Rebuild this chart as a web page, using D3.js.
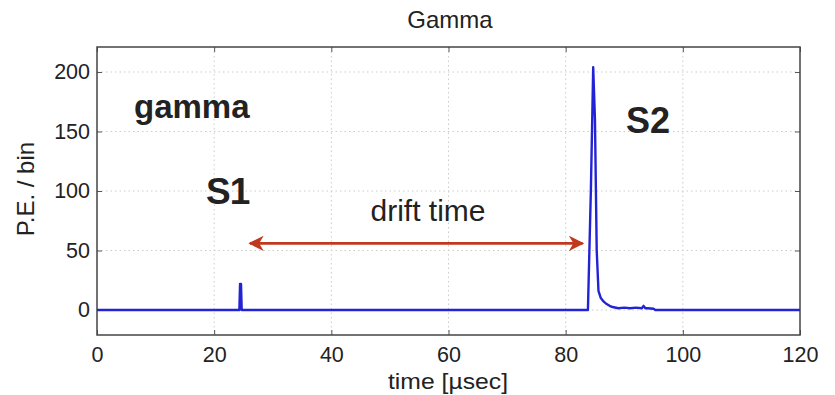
<!DOCTYPE html>
<html lang="en">
<head>
    <meta charset="UTF-8">
    <title>Gamma</title>
    <script src="https://d3js.org/d3.v7.min.js"></script>
    <style>
        body { margin: 0; background: #fff; }
        text { font-family: "Liberation Sans", Arial, sans-serif; fill: #222; }
    </style>
</head>
<body>
    <script>
        // waveform (time in µs, P.E. per bin)
        const times = [0, 24.3, 24.42, 24.58, 24.7, 83.8, 84.3, 84.7, 85.0, 85.3, 85.6, 86.0, 86.5, 87.0, 87.5, 88, 89, 90, 91, 92, 93, 93.3, 93.6, 94, 95, 95.3, 120];
        const values = [0, 0, 22, 22, 0, 0, 100, 204, 160, 50, 16, 10, 7, 5, 3.5, 2.5, 1.5, 2, 1.5, 2, 1.5, 3.5, 1.5, 1.5, 1, 0, 0];
        const xTicks = [0, 20, 40, 60, 80, 100, 120];
        const yTicks = [0, 50, 100, 150, 200];

        const width = 835, height = 395;
        const marginTop = 47, marginRight = 35, marginBottom = 60, marginLeft = 97;

        const x = d3.scaleLinear()
            .domain([0, 120])
            .range([marginLeft, width - marginRight]);

        const y = d3.scaleLinear()
            .domain([-21, 221])
            .range([height - marginBottom, marginTop]);

        const svg = d3.select("body").append("svg")
            .attr("width", width)
            .attr("height", height);

        // grid
        svg.append("g")
            .selectAll("line").data(xTicks.slice(1, -1)).join("line")
            .attr("x1", d => x(d)).attr("x2", d => x(d))
            .attr("y1", marginTop).attr("y2", height - marginBottom)
            .attr("stroke", "#ccc").attr("stroke-dasharray", "1.5,3");
        svg.append("g")
            .selectAll("line").data(yTicks).join("line")
            .attr("x1", marginLeft).attr("x2", width - marginRight)
            .attr("y1", d => y(d)).attr("y2", d => y(d))
            .attr("stroke", "#ccc").attr("stroke-dasharray", "1.5,3");

        // axes with inward ticks
        const xAxis = svg.append("g")
            .attr("transform", `translate(0,${height - marginBottom})`)
            .call(d3.axisBottom(x).tickValues(xTicks).tickSizeInner(-5).tickSizeOuter(0).tickPadding(12));
        const xAxisTop = svg.append("g")
            .attr("transform", `translate(0,${marginTop})`)
            .call(d3.axisTop(x).tickValues(xTicks).tickSizeInner(-5).tickSizeOuter(0).tickFormat(""));
        const yAxis = svg.append("g")
            .attr("transform", `translate(${marginLeft},0)`)
            .call(d3.axisLeft(y).tickValues(yTicks).tickSizeInner(-5).tickSizeOuter(0).tickPadding(7));
        const yAxisRight = svg.append("g")
            .attr("transform", `translate(${width - marginRight},0)`)
            .call(d3.axisRight(y).tickValues(yTicks).tickSizeInner(-5).tickSizeOuter(0).tickFormat(""));

        [xAxis, xAxisTop, yAxis, yAxisRight].forEach(g => {
            g.select(".domain").remove();
            g.selectAll(".tick line").attr("stroke", "#555");
            g.selectAll("text").attr("font-size", 21.5).attr("fill", "#222")
                .attr("font-family", "Liberation Sans, Arial, sans-serif");
        });

        // frame
        svg.append("rect")
            .attr("x", marginLeft).attr("y", marginTop)
            .attr("width", width - marginLeft - marginRight)
            .attr("height", height - marginTop - marginBottom)
            .attr("fill", "none").attr("stroke", "#444").attr("stroke-width", 1.5);

        // waveform
        const line = d3.line()
            .x((d, i) => x(times[i]))
            .y(d => y(d));
        svg.append("path")
            .datum(values)
            .attr("d", line)
            .attr("fill", "none")
            .attr("stroke", "#2323d6")
            .attr("stroke-width", 2.4)
            .attr("stroke-linejoin", "round");

        // labels
        svg.append("text")
            .attr("x", 450).attr("y", 28)
            .attr("text-anchor", "middle").attr("font-size", 24)
            .text("Gamma");
        svg.append("text")
            .attr("x", 448).attr("y", 389)
            .attr("text-anchor", "middle").attr("font-size", 22)
            .attr("textLength", 120).attr("lengthAdjust", "spacingAndGlyphs")
            .text("time [µsec]");
        svg.append("text")
            .attr("transform", `translate(34,${y(100) - 2}) rotate(-90)`)
            .attr("text-anchor", "middle").attr("font-size", 24)
            .text("P.E. / bin");

        // annotations
        svg.append("text")
            .attr("x", 134).attr("y", 118)
            .attr("font-size", 33).attr("font-weight", "bold")
            .text("gamma");
        svg.append("text")
            .attr("x", 206).attr("y", 204)
            .attr("font-size", 37).attr("font-weight", "bold")
            .attr("letter-spacing", -1)
            .text("S1");
        svg.append("text")
            .attr("x", 626).attr("y", 133)
            .attr("font-size", 36).attr("font-weight", "bold")
            .text("S2");
        svg.append("text")
            .attr("x", 428).attr("y", 221)
            .attr("text-anchor", "middle").attr("font-size", 30)
            .text("drift time");

        // drift arrow
        const arrowColor = "#c0391e";
        const defs = svg.append("defs");
        defs.append("marker")
            .attr("id", "arr")
            .attr("viewBox", "0 0 10 10")
            .attr("refX", 9).attr("refY", 5)
            .attr("markerWidth", 5.5).attr("markerHeight", 5.5)
            .attr("markerUnits", "strokeWidth")
            .attr("orient", "auto-start-reverse")
            .append("path")
            .attr("d", "M0,0 L10,5 L0,10 L3,5 Z")
            .attr("fill", arrowColor);
        svg.append("line")
            .attr("x1", x(26.1)).attr("x2", x(82.9))
            .attr("y1", y(56)).attr("y2", y(56))
            .attr("stroke", arrowColor).attr("stroke-width", 2.8)
            .attr("marker-start", "url(#arr)")
            .attr("marker-end", "url(#arr)");
    </script>
</body>
</html>
